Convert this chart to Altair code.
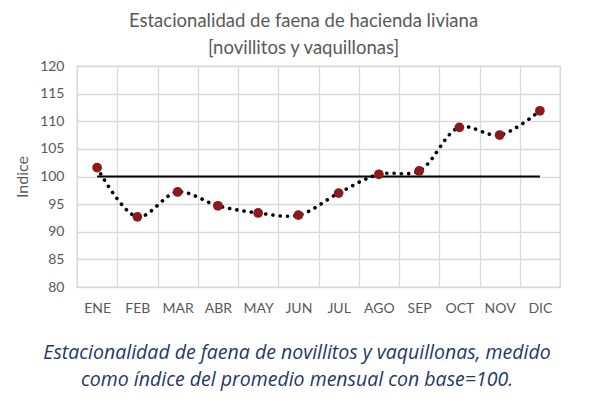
import altair as alt
import pandas as pd

months = ["ENE", "FEB", "MAR", "ABR", "MAY", "JUN", "JUL", "AGO", "SEP", "OCT", "NOV", "DIC"]
indice = [101.6, 92.7, 97.2, 94.7, 93.4, 93.0, 97.0, 100.4, 101.0, 108.9, 107.5, 111.9]
base = [100] * 12
title_lines = ["Estacionalidad de faena de hacienda liviana", "[novillitos y vaquillonas]"]
caption_lines = [
    "Estacionalidad de faena de novillitos y vaquillonas, medido",
    "como índice del promedio mensual con base=100.",
]

df = pd.DataFrame({"mes": months, "indice": indice})
df_base = pd.DataFrame({"mes": months, "indice": base})
cap = pd.DataFrame({"line": ["\n".join(caption_lines)]})

FONT = "Lato"
GRAY = "#595959"
GRID = "#d9d9d9"

x = alt.X(
    "mes:N",
    sort=months,
    title=None,
    scale=alt.Scale(type="band", paddingInner=0, paddingOuter=0),
    axis=alt.Axis(
        tickBand="extent", grid=True, gridColor=GRID, gridWidth=1.3, ticks=False,
        domain=False, labelAngle=0, labelPadding=14, labelFontSize=14,
        labelColor=GRAY, labelFont=FONT,
    ),
)
y = alt.Y(
    "indice:Q",
    title="Indice",
    scale=alt.Scale(domain=[80, 120], nice=False, zero=False),
    axis=alt.Axis(
        values=list(range(80, 121, 5)), grid=True, gridColor=GRID, gridWidth=1.3,
        ticks=False, domain=False, labelPadding=13, labelFontSize=14,
        labelColor=GRAY, labelFont=FONT, titleFont=FONT, titleFontSize=16,
        titleColor=GRAY, titleFontWeight="normal", titlePadding=9,
    ),
)

base_line = alt.Chart(df_base).mark_line(color="black", strokeWidth=2).encode(x=x, y=y)
smooth = alt.Chart(df).mark_line(
    color="black", strokeWidth=3.6, strokeDash=[0.1, 7.2], strokeCap="round",
    interpolate="catmull-rom",
).encode(x=x, y=y)
points = alt.Chart(df).mark_point(
    filled=True, size=95, color="#8b1a1a", opacity=1, shape="circle"
).encode(x=x, y=y)

caption = alt.Chart(cap).mark_text(
    font="Open Sans", fontSize=19.5, fontStyle="italic", color="#1f3864", clip=False,
    align="center", baseline="middle", lineBreak="\n", lineHeight=27,
).encode(
    text="line:N",
    x=alt.value(220),
    y=alt.value(287),
)

chart = (
    alt.layer(base_line, smooth, points, caption)
    .properties(
        width=483,
        height=221,
        padding={"left": 69, "top": 58, "right": 34, "bottom": 104},
        autosize=alt.AutoSizeParams(type="none"),
        title=alt.TitleParams(
            text=title_lines, font=FONT, fontSize=18.5, fontWeight="normal",
            color=GRAY, lineHeight=27, anchor="middle", dx=-15, offset=2,
        ),
    )
    .configure_view(stroke=GRID, strokeWidth=1.3)
)

chart.save("out.html", embed_options={"renderer": "svg", "actions": False})
